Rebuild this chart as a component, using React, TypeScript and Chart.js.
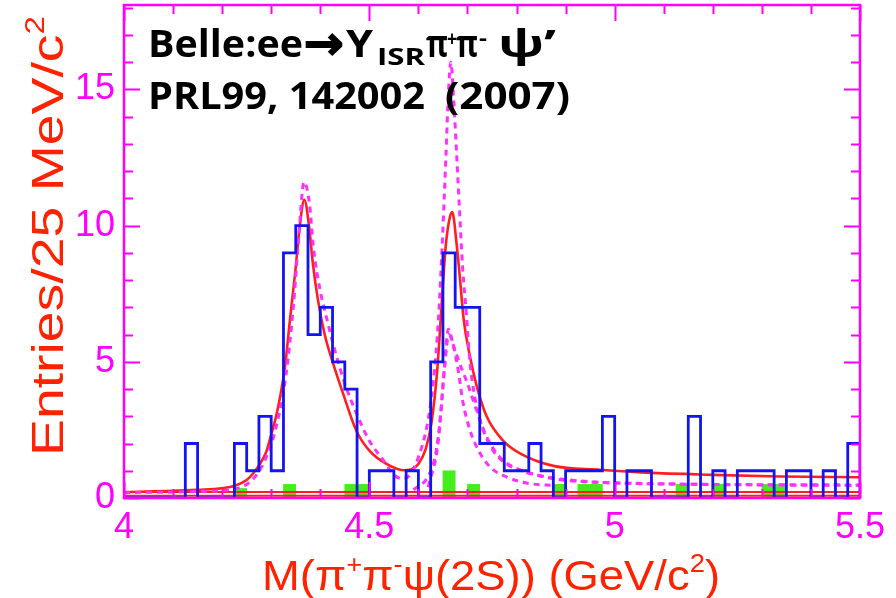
import React, { useEffect, useRef } from "react";
import { Chart, registerables } from "chart.js";

Chart.register(...registerables);

// ---------------- data ----------------
const BIN_WIDTH = 0.025;
const X_MIN = 4.0;
const X_MAX = 5.5;
const Y_MAX = 18.1;

const BIN_LEFT_EDGES = [
  4.0, 4.025, 4.05, 4.075, 4.1, 4.125, 4.15, 4.175, 4.2, 4.225, 4.25, 4.275, 4.3, 4.325, 4.35,
  4.375, 4.4, 4.425, 4.45, 4.475, 4.5, 4.525, 4.55, 4.575, 4.6, 4.625, 4.65, 4.675, 4.7, 4.725,
  4.75, 4.775, 4.8, 4.825, 4.85, 4.875, 4.9, 4.925, 4.95, 4.975, 5.0, 5.025, 5.05, 5.075, 5.1,
  5.125, 5.15, 5.175, 5.2, 5.225, 5.25, 5.275, 5.3, 5.325, 5.35, 5.375, 5.4, 5.425, 5.45, 5.475,
];

const COUNTS = [
  0, 0, 0, 0, 0, 2, 0, 0, 0, 2, 1, 3, 1, 9, 10,
  6, 7, 5, 4, 0, 1, 1, 0, 1, 0, 5, 9, 7, 7, 2,
  2, 1, 1, 2, 1, 0, 1, 1, 1, 3, 0, 1, 1, 0, 0,
  0, 3, 0, 1, 0, 1, 1, 1, 0, 1, 1, 0, 1, 0, 2,
];

const SIDEBAND = [
  0, 0, 0, 0, 0, 0, 0, 0, 0, 0.35, 0, 0, 0, 0.5, 0,
  0, 0, 0, 0.5, 0.5, 0, 0, 0, 0, 0, 0, 1.0, 0, 0.5, 0,
  0, 0, 0, 0, 0, 0.5, 0, 0.5, 0.5, 0, 0, 0, 0, 0, 0,
  0.5, 0, 0, 0.5, 0, 0, 0, 0.5, 0.5, 0, 0, 0, 0, 0, 0,
];

// total fit (red solid)
const FIT_X = [
  4.0, 4.1, 4.15, 4.2, 4.226, 4.25, 4.263, 4.275, 4.29, 4.298, 4.31, 4.318, 4.328, 4.338, 4.349,
  4.359, 4.3675, 4.377, 4.385, 4.395, 4.409, 4.426, 4.446, 4.474, 4.501, 4.535, 4.569, 4.585,
  4.6, 4.615, 4.627, 4.638, 4.647, 4.656, 4.664, 4.669, 4.678, 4.685, 4.692, 4.705, 4.719, 4.739,
  4.773, 4.807, 4.875, 4.97, 5.066, 5.2, 5.337, 5.5,
];
const FIT_Y = [
  0.22, 0.26, 0.3, 0.36, 0.45, 0.66, 0.9, 1.2, 1.7, 2.2, 3.0, 3.7, 4.8, 6.5, 8.3,
  10.1, 10.95, 10.0, 8.6, 7.3, 6.0, 4.95, 3.86, 2.45, 1.72, 1.25, 1.02, 1.05,
  1.25, 1.8, 2.8, 4.6, 7.0, 9.3, 10.3, 10.5, 9.3, 8.0, 6.6, 5.2, 4.1, 3.0,
  2.1, 1.64, 1.18, 1.04, 0.93, 0.85, 0.79, 0.76,
];

// dashed magenta: other solution (two peaks)
const ALT_X = [
  4.0, 4.15, 4.22, 4.25, 4.27, 4.29, 4.31, 4.33, 4.345, 4.355, 4.367, 4.378, 4.386, 4.4, 4.413,
  4.43, 4.45, 4.474, 4.5, 4.528, 4.55, 4.57, 4.585, 4.6, 4.617, 4.63, 4.641, 4.649, 4.656, 4.661,
  4.666, 4.672, 4.678, 4.684, 4.69, 4.698, 4.705, 4.715, 4.73, 4.75, 4.78, 4.82, 4.87, 4.95, 5.1,
  5.3, 5.5,
];
const ALT_Y = [
  0.2, 0.24, 0.32, 0.5, 0.85, 1.5, 2.6, 4.5, 7.0, 9.3, 11.6, 10.8, 9.2, 7.6, 6.6,
  5.4, 4.2, 3.1, 2.1, 1.4, 0.85, 0.7, 0.9, 1.5, 2.6, 4.2, 6.6, 9.5, 12.5, 14.8,
  16.0, 14.6, 12.6, 10.5, 8.5, 6.7, 5.0, 3.7, 2.6, 1.8, 1.25, 0.95, 0.75, 0.6, 0.52,
  0.48, 0.46,
];

// dashed magenta: narrow Y(4660) component
const COMP_A_X = [4.59, 4.62, 4.635, 4.645, 4.653, 4.661, 4.671, 4.681, 4.691, 4.705, 4.722, 4.746, 4.78, 4.82, 4.88];
const COMP_A_Y = [0.3, 0.8, 1.6, 3.0, 4.8, 6.2, 5.6, 4.7, 3.5, 2.5, 1.76, 1.14, 0.77, 0.55, 0.45];

// dashed magenta: broader component with flat tail
const COMP_B_X = [4.62, 4.64, 4.652, 4.662, 4.675, 4.687, 4.698, 4.719, 4.739, 4.766, 4.807, 4.85, 4.9, 5.0, 5.2, 5.5];
const COMP_B_Y = [0.4, 2.0, 4.5, 6.0, 5.4, 4.8, 4.3, 3.2, 2.25, 1.5, 1.03, 0.8, 0.65, 0.55, 0.5, 0.48];

// flat background levels (red) and zero line (black)
const BKG_LEVELS = [0.22, 0.08];
const ZERO_LEVEL = 0;

const X_TICKS = [4, 4.5, 5, 5.5];
const Y_TICKS = [0, 5, 10, 15];

// ---------------- styles ----------------
const MAGENTA = "#ff00ff";
const DASH_MAGENTA = "#ff30ff";
const RED = "#ff1f1f";
const TITLE_RED = "#ff2200";
const BLUE = "#1414f0";
const GREEN = "#44ee1a";

type Seg = { t: string; size: number; dy: number; family?: string };

function segWidth(ctx: CanvasRenderingContext2D, s: Seg, weight: string, family: string) {
  ctx.font = `${weight} ${s.size}px ${s.family || family}`;
  return ctx.measureText(s.t).width;
}

function drawFitted(
  ctx: CanvasRenderingContext2D,
  segs: Seg[],
  weight: string,
  family: string,
  targetW: number,
  align: "left" | "center",
  strokeW = 0
) {
  const widths = segs.map((s) => segWidth(ctx, s, weight, family));
  const total = widths.reduce((a, b) => a + b, 0);
  const sx = targetW / total;
  ctx.save();
  ctx.scale(sx, 1);
  let cx = align === "center" ? -total / 2 : 0;
  ctx.textAlign = "left";
  ctx.textBaseline = "alphabetic";
  segs.forEach((s, i) => {
    ctx.font = `${weight} ${s.size}px ${s.family || family}`;
    ctx.fillText(s.t, cx, s.dy);
    if (strokeW > 0) {
      ctx.lineWidth = strokeW;
      ctx.strokeStyle = ctx.fillStyle as string;
      ctx.strokeText(s.t, cx, s.dy);
    }
    cx += widths[i];
  });
  ctx.restore();
}

function placeText(
  ctx: CanvasRenderingContext2D,
  text: string,
  x: number,
  y: number,
  size: number,
  targetW: number | null,
  family = "'Open Sans', 'DejaVu Sans', sans-serif",
  strokeW = 0
) {
  ctx.save();
  ctx.translate(x, y);
  const natural = segWidth(ctx, { t: text, size, dy: 0 }, "bold", family);
  drawFitted(ctx, [{ t: text, size, dy: 0 }], "bold", family, targetW ?? natural, "left", strokeW);
  ctx.restore();
}

const framePlugin = {
  id: "frameTicks",
  afterDatasetsDraw(chart: any) {
    const ctx: CanvasRenderingContext2D = chart.ctx;
    const { left, right, top, bottom } = chart.chartArea;
    const xs = chart.scales.x;
    const ys = chart.scales.y;
    ctx.save();
    ctx.strokeStyle = MAGENTA;
    ctx.lineWidth = 2;
    ctx.beginPath();
    for (let k = 0; k <= 15; k++) {
      const v = X_MIN + k * 0.1;
      const px = Math.round(xs.getPixelForValue(v)) + 0.5;
      const len = k % 5 === 0 ? 16 : 9;
      ctx.moveTo(px, top);
      ctx.lineTo(px, top + len);
      ctx.moveTo(px, bottom);
      ctx.lineTo(px, bottom - len);
    }
    for (let v = 0; v <= 18; v++) {
      const py = Math.round(ys.getPixelForValue(v)) + 0.5;
      const len = v % 5 === 0 ? 16 : 9;
      ctx.moveTo(left, py);
      ctx.lineTo(left + len, py);
      ctx.moveTo(right, py);
      ctx.lineTo(right - len, py);
    }
    ctx.stroke();
    ctx.lineWidth = 2.5;
    ctx.strokeRect(left, top, right - left, bottom - top);
    ctx.restore();
  },
  afterDraw(chart: any) {
    const ctx: CanvasRenderingContext2D = chart.ctx;
    const sans = "'Liberation Sans', Arial, sans-serif";
    const bold = "'Open Sans', 'DejaVu Sans', sans-serif";
    ctx.save();

    // annotation text (black, bold)
    ctx.fillStyle = "#000";
    placeText(ctx, "Belle:ee", 148, 57, 38, 155, bold);
    placeText(ctx, "\u2192", 304, 59, 46, 40, "'DejaVu Sans', sans-serif", 1.6);
    placeText(ctx, "\u03A5", 346, 57, 38, 27, bold);
    placeText(ctx, "ISR", 377, 65, 24, 48, bold);
    placeText(ctx, "\u03C0", 426, 57, 38, 22, bold);
    placeText(ctx, "+", 447, 46, 22, 10, bold);
    placeText(ctx, "\u03C0", 456, 57, 38, 22, bold);
    placeText(ctx, "-", 479, 45, 22, 8, bold);
    placeText(ctx, "\u03C8\u2019", 498, 57, 38, 58, bold);
    placeText(ctx, "PRL99, 142002", 148, 109, 38, 277, bold);
    placeText(ctx, "(2007)", 445, 109, 38, 125, bold);

    // axis titles (red)
    ctx.fillStyle = TITLE_RED;
    ctx.save();
    ctx.translate(491, 590);
    drawFitted(
      ctx,
      [
        { t: "M(\u03C0", size: 43, dy: 0 },
        { t: "+", size: 26, dy: -17 },
        { t: "\u03C0", size: 43, dy: 0 },
        { t: "-", size: 26, dy: -17 },
        { t: "\u03C8(2S)) (GeV/c", size: 43, dy: 0 },
        { t: "2", size: 26, dy: -18 },
        { t: ")", size: 43, dy: 0 },
      ],
      "normal",
      sans,
      458,
      "center"
    );
    ctx.restore();

    ctx.save();
    ctx.translate(63, 236);
    ctx.rotate(-Math.PI / 2);
    drawFitted(
      ctx,
      [
        { t: "Entries/25 MeV/c", size: 45, dy: 0 },
        { t: "2", size: 27, dy: -19 },
      ],
      "normal",
      sans,
      440,
      "center"
    );
    ctx.restore();

    ctx.restore();
  },
};

export default function App() {
  const ref = useRef<HTMLCanvasElement | null>(null);

  useEffect(() => {
    document.body.style.margin = "0";
    const canvas = ref.current;
    if (!canvas) return;

    const flat = (y: number) => [
      { x: X_MIN, y },
      { x: X_MAX, y },
    ];
    const curve = (xs: number[], ys: number[]) => xs.map((x, i) => ({ x, y: ys[i] }));

    const histData = BIN_LEFT_EDGES.map((x, i) => ({ x, y: COUNTS[i] }));
    histData.push({ x: X_MAX, y: COUNTS[COUNTS.length - 1] });
    histData.push({ x: X_MAX, y: 0 });

    const sideData = BIN_LEFT_EDGES.map((x, i) => ({ x: x + BIN_WIDTH / 2, y: SIDEBAND[i] }));

    const dashed = (data: any[]) => ({
      type: "line" as const,
      data,
      borderColor: DASH_MAGENTA,
      borderWidth: 3,
      borderDash: [6, 5],
      pointRadius: 0,
      cubicInterpolationMode: "monotone" as const,
      order: 1,
    });

    const chart = new Chart(canvas, {
      type: "line",
      data: {
        datasets: [
          {
            type: "bar",
            data: sideData,
            backgroundColor: GREEN,
            borderWidth: 0,
            barPercentage: 1,
            categoryPercentage: 1,
            order: 5,
          } as any,
          {
            type: "line",
            data: flat(ZERO_LEVEL),
            borderColor: "#000",
            borderWidth: 1.5,
            borderDash: [8, 3, 2, 3],
            pointRadius: 0,
            order: 4,
          },
          ...BKG_LEVELS.map((lv) => ({
            type: "line" as const,
            data: flat(lv),
            borderColor: RED,
            borderWidth: 2,
            pointRadius: 0,
            order: 3,
          })),
          {
            type: "line",
            data: curve(FIT_X, FIT_Y),
            borderColor: RED,
            borderWidth: 2.6,
            pointRadius: 0,
            cubicInterpolationMode: "monotone",
            order: 2,
          },
          dashed(curve(ALT_X, ALT_Y)),
          dashed(curve(COMP_A_X, COMP_A_Y)),
          dashed(curve(COMP_B_X, COMP_B_Y)),
          {
            type: "line",
            data: histData,
            borderColor: BLUE,
            borderWidth: 2.8,
            pointRadius: 0,
            stepped: "before",
            order: 0,
          },
        ],
      },
      options: {
        responsive: false,
        animation: false,
        devicePixelRatio: 1,
        layout: { padding: { top: 5, right: 36, left: 0, bottom: 0 } },
        plugins: { legend: { display: false }, tooltip: { enabled: false } },
        scales: {
          x: {
            type: "linear",
            min: X_MIN,
            max: X_MAX,
            offset: false,
            grid: { display: false, drawTicks: false },
            border: { display: false },
            afterBuildTicks: (s: any) => {
              s.ticks = X_TICKS.map((v) => ({ value: v }));
            },
            afterFit: (s: any) => {
              s.height = 100;
              s.paddingLeft = 0;
              s.paddingRight = 0;
            },
            ticks: {
              color: MAGENTA,
              font: { family: "'Liberation Sans', Arial, sans-serif", size: 36 },
              padding: 8,
              maxRotation: 0,
              autoSkip: false,
              callback: (v: any) => String(v),
            },
          },
          y: {
            type: "linear",
            min: 0,
            max: Y_MAX,
            grid: { display: false, drawTicks: false },
            border: { display: false },
            afterBuildTicks: (s: any) => {
              s.ticks = Y_TICKS.map((v) => ({ value: v }));
            },
            afterFit: (s: any) => {
              s.width = 124;
              s.paddingTop = 0;
              s.paddingBottom = 0;
            },
            ticks: {
              color: MAGENTA,
              font: { family: "'Liberation Sans', Arial, sans-serif", size: 36 },
              padding: 9,
              autoSkip: false,
              callback: (v: any) => String(v),
            },
          },
        },
      },
      plugins: [framePlugin],
    });

    return () => chart.destroy();
  }, []);

  return (
    <div style={{ position: "absolute", left: 0, top: 0, width: 896, height: 598, background: "#fff" }}>
      <canvas ref={ref} width={896} height={598} style={{ display: "block" }} />
    </div>
  );
}
